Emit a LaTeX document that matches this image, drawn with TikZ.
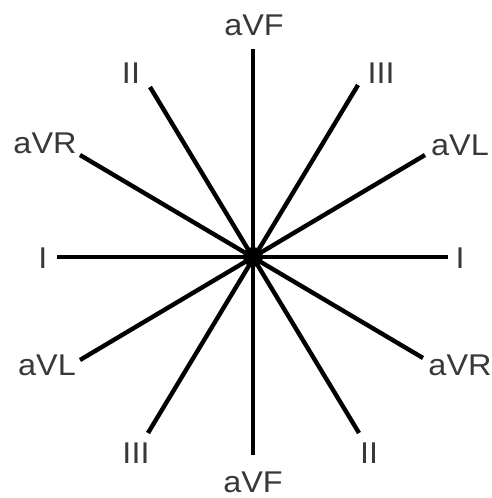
\documentclass[tikz,border=0pt]{standalone}
\usepackage{fontspec}
\setmainfont[FakeStretch=1.08]{Liberation Sans}
\begin{document}
\begin{tikzpicture}[x=1pt,y=-1pt,
  spoke/.style={line width=4.4pt,black},
  lbl/.style={anchor=base,inner sep=0pt,text=black!78,font=\fontsize{30}{30}\selectfont}]
\useasboundingbox (0,0) rectangle (492,498);
\fill[white] (0,0) rectangle (492,498);
\coordinate (C) at (253,257);
\coordinate (Il) at (57,257);   \coordinate (Ir) at (448,257);
\coordinate (Ft) at (253,49);   \coordinate (Fb) at (253,455);
\coordinate (IIt) at (150,87);  \coordinate (IIb) at (359,433);
\coordinate (IIIt) at (358,85); \coordinate (IIIb) at (148,433);
\coordinate (Rt) at (80,155);   \coordinate (Rb) at (423,358);
\coordinate (Lt) at (425,155);  \coordinate (Lb) at (80,360);
\draw[spoke,line width=3.4pt] (Il) -- (Ir);
\draw[spoke] (Ft) -- (Fb);
\draw[spoke] (IIt) -- (IIb);
\draw[spoke] (IIIt) -- (IIIb);
\draw[spoke] (Rt) -- (Rb);
\draw[spoke] (Lt) -- (Lb);
\fill[black] (C) circle (10);
\node[lbl] (tFt) at (254,35) {aVF};
\node[lbl] (tFb) at (253,492) {aVF};
\node[lbl] (tIIt) at (131,83) {II};
\node[lbl] (tIIIt) at (381,83) {III};
\node[lbl] (tRt) at (45,153) {aVR};
\node[lbl] (tLt) at (460,155) {aVL};
\node[lbl] (tIl) at (43,268) {I};
\node[lbl] (tIr) at (460,268) {I};
\node[lbl] (tLb) at (47,375) {aVL};
\node[lbl] (tRb) at (460,375) {aVR};
\node[lbl] (tIIIb) at (136,463) {III};
\node[lbl] (tIIb) at (369,463) {II};
\end{tikzpicture}
\end{document}
